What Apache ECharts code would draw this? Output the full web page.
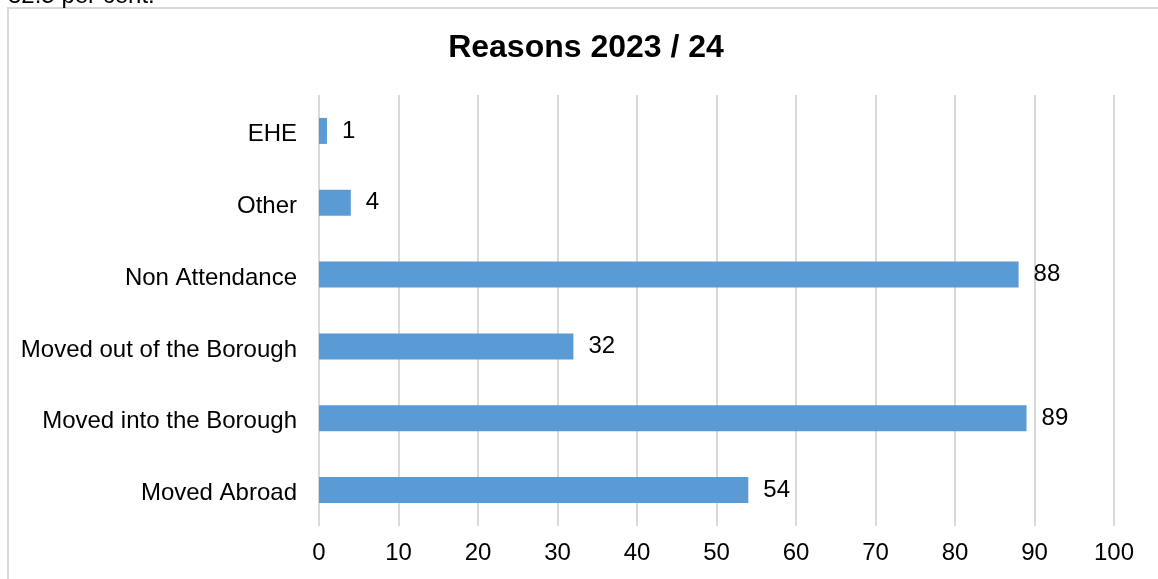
<!DOCTYPE html>
<html>
<head>
<meta charset="utf-8">
<script src="https://cdn.jsdelivr.net/npm/echarts@6/dist/echarts.min.js"></script>
<style>
html,body{margin:0;padding:0;background:#fff;}
#c{width:1158px;height:579px;}
</style>
</head>
<body>
<div id="c"></div>
<script>
const categories = ["Moved Abroad", "Moved into the Borough", "Moved out of the Borough", "Non Attendance", "Other", "EHE"];
const values = [54, 89, 32, 88, 4, 1];
const titleText = "Reasons 2023 / 24";
const topText = "32.5 per cent.";

const chart = echarts.init(document.getElementById('c'));
const font = '"Liberation Sans", Arial, sans-serif';
chart.setOption({
  animation: false,
  backgroundColor: '#fff',
  title: {
    text: titleText,
    left: 581, top: 27, textAlign: 'center',
    textStyle: {fontFamily: font, fontSize: 32, fontWeight: 'bold', color: '#000'}
  },
  graphic: [
    {type: 'rect', shape: {x: 8, y: 8, width: 1160, height: 600}, style: {fill: 'none', stroke: '#d9d9d9', lineWidth: 2}},
    {type: 'text', left: 8, top: -16, style: {text: topText, font: '24px "Liberation Sans", Arial, sans-serif', fill: '#000'}}
  ],
  grid: {left: 319, right: 44, top: 95, bottom: 53, containLabel: false},
  xAxis: {
    type: 'value', min: 0, max: 100, interval: 10,
    axisLine: {show: false}, axisTick: {show: false},
    splitLine: {show: true, lineStyle: {color: '#d9d9d9', width: 2}},
    axisLabel: {margin: 15, fontFamily: font, fontSize: 24, color: '#000'}
  },
  yAxis: {
    type: 'category', data: categories,
    axisLine: {show: false}, axisTick: {show: false},
    axisLabel: {margin: 22, fontFamily: font, fontSize: 24, color: '#000', verticalAlign: 'top', lineHeight: 7}
  },
  series: [{
    type: 'bar', data: values, barWidth: 26,
    itemStyle: {color: '#5b9bd5'},
    label: {show: true, position: 'right', distance: 15, fontFamily: font, fontSize: 24, color: '#000'}
  }]
});
</script>
</body>
</html>
